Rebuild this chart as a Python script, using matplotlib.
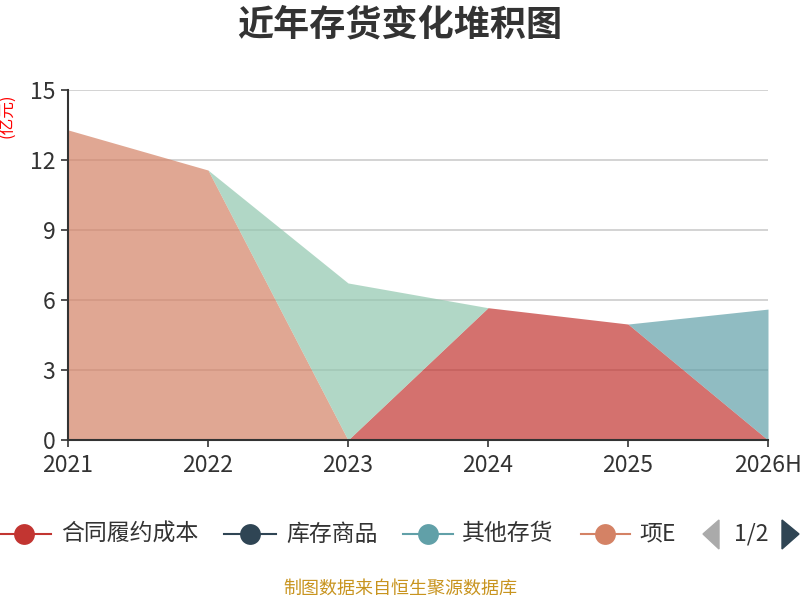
import matplotlib
matplotlib.use("Agg")
import matplotlib.pyplot as plt
import numpy as np
from matplotlib.lines import Line2D
from matplotlib.patches import Polygon

plt.rcParams['font.family'] = ['Noto Sans CJK SC', 'DejaVu Sans']

# data (亿元), stacking order as in the chart
years = ["2021", "2022", "2023", "2024", "2025", "2026H"]
series_names = ["合同履约成本", "库存商品", "其他存货", "项目成本", "原材料"]
contract_cost = [0, 0, 0, 5.67, 4.97, 0]
goods = [0, 0, 0, 0, 0, 0]
other = [0, 0, 0, 0, 0, 5.61]
project = [13.29, 11.57, 0, 0, 0, 0]
raw = [0, 0, 6.73, 0, 0, 0]
colors = ["#c23531", "#2f4554", "#61a0a8", "#d48265", "#91c7ae"]
legend_labels = ["合同履约成本", "库存商品", "其他存货", "项E"]

fig = plt.figure(figsize=(8, 6), dpi=100)
ax = fig.add_axes([68 / 800, 1 - 440 / 600, 700 / 800, 350 / 600])

x = np.arange(len(years))
base = np.zeros(len(years))
for vals, c in zip([contract_cost, goods, other, project, raw], colors):
    top = base + np.array(vals)
    ax.fill_between(x, base, top, color=c, alpha=0.7, linewidth=0, zorder=2)
    base = top

ax.set_xlim(0, len(years) - 1)
ax.set_ylim(0, 15)
ax.set_yticks([0, 3, 6, 9, 12, 15])
ax.set_xticks(x)
ax.set_xticklabels(years)
ax.grid(axis='y', color='#cccccc', linewidth=1.2, zorder=1)
for s in ['top', 'right']:
    ax.spines[s].set_visible(False)
for s in ['left', 'bottom']:
    ax.spines[s].set_color('#333333')
    ax.spines[s].set_linewidth(1.5)
    ax.spines[s].set_zorder(3)
ax.tick_params(axis='both', colors='#333333', labelsize=16.5, length=5, width=1.2)
ax.tick_params(axis='y', pad=4)
ax.tick_params(axis='x', pad=5)

fig.text(8 / 800, 1 - 116 / 600, "(亿元)", color='red', fontsize=12, rotation=90,
         ha='center', va='center')
fig.text(0.5, 1 - 25 / 600, "近年存货变化堆积图", fontsize=26, fontweight='bold',
         color='#333333', ha='center', va='center')

# legend: (line start, line end, marker x, text x) in pixels
leg_y = 1 - 534 / 600
items = [(0, 51, 24, 61), (224, 276, 250, 286), (403, 453, 428, 462), (581, 630, 605, 639)]
for (x0, x1, cx, tx), lab, c in zip(items, legend_labels, colors):
    fig.add_artist(Line2D([x0 / 800, x1 / 800], [leg_y, leg_y], color=c, linewidth=1.5))
    fig.add_artist(Line2D([cx / 800], [leg_y], marker='o', markersize=15, color=c,
                          markeredgewidth=0))
    fig.text(tx / 800, leg_y, lab, fontsize=16.5, color='#333333', ha='left', va='center')

fig.add_artist(Polygon([[703 / 800, leg_y], [719 / 800, 1 - 520 / 600], [719 / 800, 1 - 549 / 600]],
                       closed=True, color='#aaaaaa', transform=fig.transFigure))
fig.text(751 / 800, leg_y, "1/2", fontsize=16.5, color='#333333', ha='center', va='center')
fig.add_artist(Polygon([[799 / 800, leg_y], [782 / 800, 1 - 520 / 600], [782 / 800, 1 - 549 / 600]],
                       closed=True, color='#2f4554', transform=fig.transFigure))

fig.text(0.5, 1 - 589 / 600, "制图数据来自恒生聚源数据库", fontsize=13, color='#c8941f',
         ha='center', va='center')

fig.savefig("out.png", dpi=100)
